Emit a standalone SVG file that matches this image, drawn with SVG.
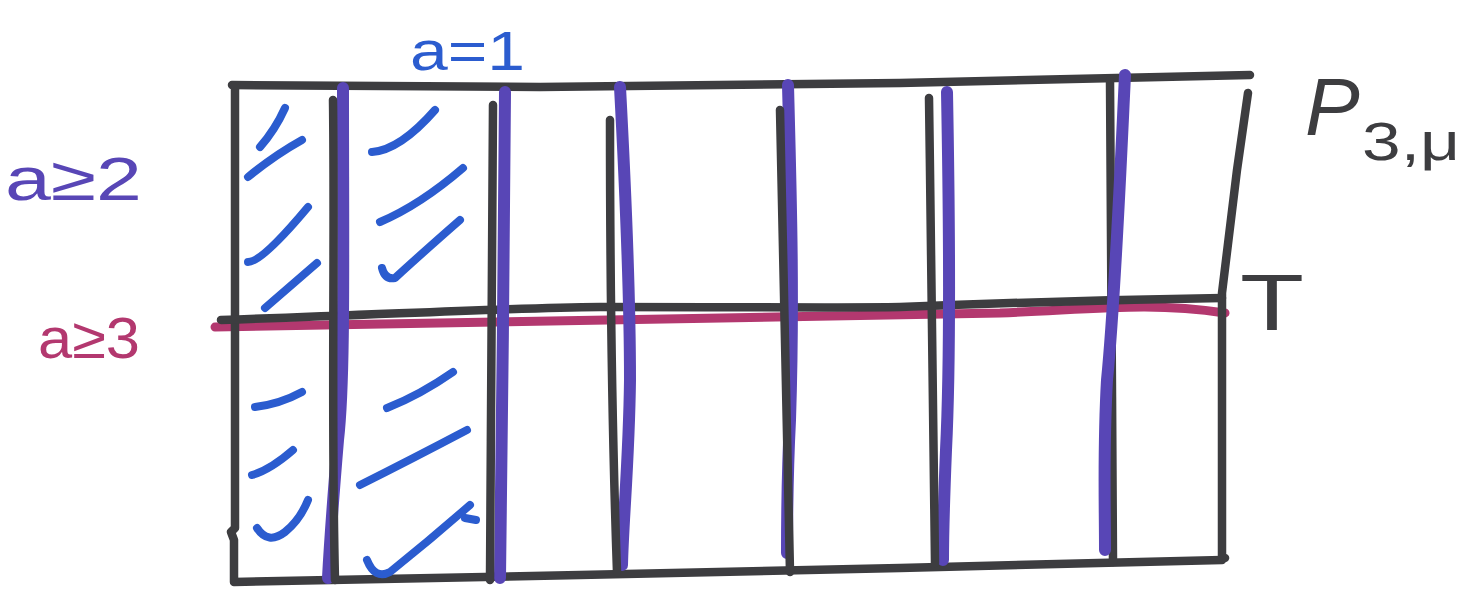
<svg xmlns="http://www.w3.org/2000/svg" width="1467" height="600" viewBox="0 0 1467 600">
<style>
.k{fill:none;stroke:#3d3d40;stroke-width:8.5;stroke-linecap:round;stroke-linejoin:round}
.p{fill:none;stroke:#5846b6;stroke-width:12;stroke-linecap:round;stroke-linejoin:round}
.b{fill:none;stroke:#2b5ccf;stroke-width:8;stroke-linecap:round;stroke-linejoin:round}
.m{fill:none;stroke:#b3386f;stroke-width:9;stroke-linecap:round}
.t{font-family:"Liberation Sans",Arial,sans-serif}
</style>
<rect width="1467" height="600" fill="#fff"/>
<g id="frame">
<path class="m" d="M215,327 C400,324 700,320 1000,313 C1100,309 1150,302 1225,313"/>
<path class="k" d="M232,85 L540,87 L900,83 L1250,75"/>
<path class="k" d="M1248,93 L1237,170 L1222,293 L1222,557 L1225,558"/>
<path class="k" d="M235,86 L235,528 L231,532 L234,540 L234,582 L580,575 L900,568 L1222,560"/>
<path class="k" d="M221,320 C400,314 500,308 600,307 C750,307 850,308 900,307 C1000,303 1100,300 1222,298"/>
</g>
<g id="columns">
<path class="p" d="M343,88 C343,250 345,380 338,440 C333,500 330,540 328,578"/>
<path class="k" d="M333,100 C335,250 331,420 335,580"/>
<path class="p" d="M505,92 C504,250 502,420 500,578"/>
<path class="k" d="M493,105 C492,250 491,420 490,580"/>
<path class="p" d="M620,87 C626,200 630,300 630,380 C629,460 623,520 622,565"/>
<path class="k" d="M610,120 C610,250 611,400 617,572"/>
<path class="p" d="M788,85 C791,200 794,300 790,420 C787,480 787,520 787,553"/>
<path class="k" d="M780,110 C782,250 786,400 790,572"/>
<path class="p" d="M947,92 C949,200 951,350 946,450 C944,500 943,530 943,560"/>
<path class="k" d="M929,98 C931,250 934,400 935,563"/>
<path class="k" d="M1110,80 C1111,200 1112,400 1113,562"/>
<path class="p" d="M1125,75 C1120,180 1115,300 1107,380 C1103,450 1105,500 1105,550"/>
</g>
<g id="hatches">
<path class="b" d="M260,147 Q275,130 285,108"/>
<path class="b" d="M248,177 Q275,155 302,140"/>
<path class="b" d="M248,262 Q262,262 308,207"/>
<path class="b" d="M265,308 L317,263"/>
<path class="b" d="M372,152 Q400,150 435,110"/>
<path class="b" d="M380,222 Q420,205 463,168"/>
<path class="b" d="M382,268 Q385,280 395,278 Q420,255 460,220"/>
<path class="b" d="M255,407 Q280,404 302,392"/>
<path class="b" d="M252,475 Q270,470 293,450"/>
<path class="b" d="M257,528 Q268,545 285,532 Q300,520 308,500"/>
<path class="b" d="M387,408 Q420,395 453,372"/>
<path class="b" d="M360,485 Q410,460 467,430"/>
<path class="b" d="M367,560 Q375,580 390,572 Q430,540 470,505"/>
<path class="b" d="M465,518 L476,520"/>
</g>
<g id="labels">
<text class="t" x="410" y="70" font-size="56" fill="#2b5ccf" textLength="115" lengthAdjust="spacingAndGlyphs">a=1</text>
<text class="t" x="5" y="200" font-size="62" fill="#5846b6" textLength="137" lengthAdjust="spacingAndGlyphs">a≥2</text>
<text class="t" x="38" y="358" font-size="58" fill="#b3386f" textLength="102" lengthAdjust="spacingAndGlyphs">a≥3</text>
<text class="t" x="1305" y="135" font-size="82" font-style="italic" fill="#3d3d40">P</text>
<text class="t" x="1362" y="160" font-size="54" fill="#3d3d40" textLength="98" lengthAdjust="spacingAndGlyphs">3,μ</text>
<text class="t" x="1240" y="330" font-size="80" fill="#3d3d40" textLength="64" lengthAdjust="spacingAndGlyphs">T</text>
</g>
</svg>
